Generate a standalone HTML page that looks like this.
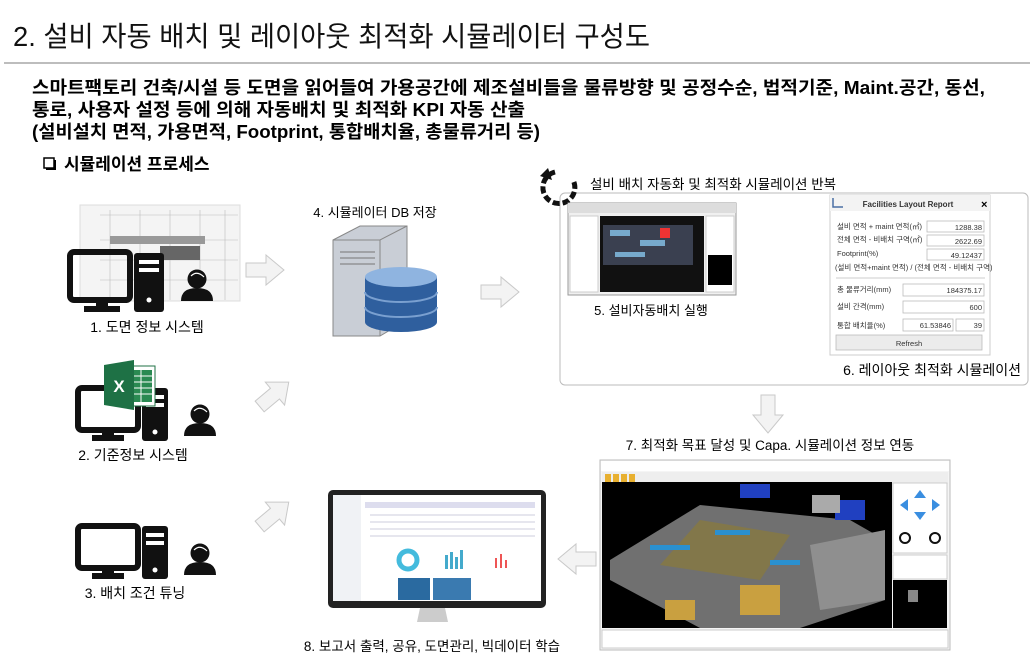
<!DOCTYPE html>
<html><head><meta charset="utf-8">
<style>
html,body{margin:0;padding:0;background:#fff;}
svg{display:block;font-family:"Liberation Sans","Noto Sans CJK KR",sans-serif;}
</style></head><body>
<svg width="1035" height="670" viewBox="0 0 1035 670" xmlns="http://www.w3.org/2000/svg">
<defs>
<g id="rarrow"><path d="M0,8 H20 V0 L38,15 L20,30 V22 H0 Z" fill="#f3f3f3" stroke="#c9c9c9" stroke-width="1"/></g>
<g id="person"><circle cx="0" cy="0" r="9.5" fill="#111"/><path d="M-6,-3 Q0,-9 7,-2" stroke="#fff" stroke-width="1.2" fill="none"/><path d="M-16,22 Q-16,9 0,9 Q16,9 16,22 Z" fill="#111"/></g>
</defs>
<!-- title -->
<text x="13" y="46" font-size="28" fill="#111" textLength="637" lengthAdjust="spacingAndGlyphs">2. 설비 자동 배치 및 레이아웃 최적화 시뮬레이터 구성도</text>
<rect x="4" y="62" width="1026" height="2" fill="#bdbdbd"/>
<g font-size="18" font-weight="bold" fill="#000">
<text x="32" y="94" textLength="953" lengthAdjust="spacingAndGlyphs">스마트팩토리 건축/시설 등 도면을 읽어들여 가용공간에 제조설비들을 물류방향 및 공정수순, 법적기준, Maint.공간, 동선,</text>
<text x="32" y="116" textLength="493" lengthAdjust="spacingAndGlyphs">통로, 사용자 설정 등에 의해 자동배치 및 최적화 KPI 자동 산출</text>
<text x="32" y="138" textLength="508" lengthAdjust="spacingAndGlyphs">(설비설치 면적, 가용면적, Footprint, 통합배치율, 총물류거리 등)</text>
</g>
<rect x="44" y="158" width="10" height="10" fill="#fff" stroke="#000" stroke-width="1.5"/>
<rect x="46" y="168" width="10" height="2" fill="#000"/><rect x="54" y="160" width="2" height="10" fill="#000"/>
<text x="64" y="170" font-size="17" font-weight="bold">시뮬레이션 프로세스</text>

<!-- node1 floor plan -->
<rect x="80" y="205" width="160" height="96" fill="#f4f4f4" stroke="#ddd"/>
<g stroke="#bbb" stroke-width="0.6">
<line x1="100" y1="215" x2="238" y2="215"/><line x1="100" y1="240" x2="238" y2="240"/><line x1="100" y1="260" x2="238" y2="260"/><line x1="100" y1="280" x2="238" y2="280"/>
<line x1="110" y1="210" x2="110" y2="300"/><line x1="140" y1="210" x2="140" y2="300"/><line x1="170" y1="210" x2="170" y2="300"/><line x1="200" y1="210" x2="200" y2="300"/><line x1="225" y1="210" x2="225" y2="300"/>
</g>
<rect x="110" y="236" width="95" height="8" fill="#999"/><rect x="160" y="246" width="40" height="14" fill="#666"/>
<rect x="70" y="252" width="60" height="48" rx="4" fill="none" stroke="#111" stroke-width="6"/>
<rect x="96" y="300" width="12" height="8" fill="#111"/><rect x="84" y="306" width="36" height="6" fill="#111"/>
<rect x="134" y="253" width="30" height="59" rx="3" fill="#111"/>
<rect x="139" y="260" width="20" height="4" fill="#fff"/><rect x="139" y="268" width="20" height="4" fill="#fff"/><circle cx="149" cy="300" r="2.5" fill="#fff"/>
<use href="#person" x="197" y="279"/>
<text x="147" y="332" font-size="14" text-anchor="middle">1. 도면 정보 시스템</text>

<!-- node2 -->
<rect x="78" y="388" width="60" height="42" rx="4" fill="none" stroke="#111" stroke-width="6"/>
<rect x="102" y="430" width="12" height="7" fill="#111"/><rect x="92" y="435" width="32" height="6" fill="#111"/>
<rect x="142" y="388" width="26" height="53" rx="3" fill="#111"/>
<rect x="146" y="395" width="18" height="4" fill="#fff"/><rect x="146" y="403" width="18" height="4" fill="#fff"/><circle cx="155" cy="432" r="2.5" fill="#fff"/>
<rect x="118" y="366" width="37" height="40" fill="#fff" stroke="#1f7244"/>
<g fill="#2a8a52"><rect x="130" y="370" width="22" height="32"/></g>
<g stroke="#fff" stroke-width="1"><line x1="130" y1="376" x2="152" y2="376"/><line x1="130" y1="382" x2="152" y2="382"/><line x1="130" y1="388" x2="152" y2="388"/><line x1="130" y1="394" x2="152" y2="394"/><line x1="141" y1="370" x2="141" y2="402"/></g>
<path d="M104,365 L134,360 L134,410 L104,405 Z" fill="#1e7145"/>
<text x="119" y="392" font-size="17" font-weight="bold" fill="#fff" text-anchor="middle">X</text>
<use href="#person" x="200" y="414"/>
<text x="133" y="460" font-size="14" text-anchor="middle">2. 기준정보 시스템</text>

<!-- node3 -->
<rect x="78" y="526" width="60" height="42" rx="4" fill="none" stroke="#111" stroke-width="6"/>
<rect x="102" y="568" width="12" height="7" fill="#111"/><rect x="92" y="573" width="32" height="6" fill="#111"/>
<rect x="142" y="526" width="26" height="53" rx="3" fill="#111"/>
<rect x="146" y="533" width="18" height="4" fill="#fff"/><rect x="146" y="541" width="18" height="4" fill="#fff"/><circle cx="155" cy="570" r="2.5" fill="#fff"/>
<use href="#person" x="200" y="553"/>
<text x="135" y="598" font-size="14" text-anchor="middle">3. 배치 조건 튜닝</text>

<!-- arrows -->
<use href="#rarrow" x="246" y="255"/>
<use href="#rarrow" transform="translate(250,395) rotate(-40)"/>
<use href="#rarrow" transform="translate(250,515) rotate(-40)"/>
<use href="#rarrow" x="481" y="277"/>
<use href="#rarrow" x="790" y="232"/>
<use href="#rarrow" transform="translate(783,395) rotate(90)"/>
<use href="#rarrow" transform="translate(596,574) rotate(180)"/>

<!-- server -->
<text x="375" y="217" font-size="13" text-anchor="middle">4. 시뮬레이터 DB 저장</text>
<path d="M333,240 L360,226 L407,226 L407,320 L380,336 L333,336 Z" fill="#c9ced6" stroke="#888"/>
<path d="M333,240 L380,240 L380,336" fill="none" stroke="#888"/>
<path d="M380,240 L407,226" stroke="#888"/>
<g stroke="#777" stroke-width="1"><line x1="340" y1="252" x2="375" y2="252"/><line x1="340" y1="258" x2="375" y2="258"/><line x1="340" y1="264" x2="375" y2="264"/></g>
<g>
<path d="M365,277 V322 A36,10 0 0 0 437,322 V277 Z" fill="#2f5f9e"/>
<ellipse cx="401" cy="277" rx="36" ry="10" fill="#8fb4e0"/>
<path d="M365,292 A36,10 0 0 0 437,292 M365,307 A36,10 0 0 0 437,307" fill="none" stroke="#7aa0d0" stroke-width="2"/>
</g>

<!-- frame -->
<rect x="560" y="193" width="468" height="192" rx="5" fill="#fff" stroke="#bbb"/>
<path d="M555,172 A16,16 0 1 0 573,180" fill="none" stroke="#111" stroke-width="5" stroke-dasharray="7,3"/>
<path d="M540,176 L548,168 L552,180 Z" fill="#111"/>
<text x="590" y="189" font-size="13.5">설비 배치 자동화 및 최적화 시뮬레이션 반복</text>

<!-- screenshot 5 -->
<rect x="568" y="203" width="168" height="92" fill="#f0f0f0" stroke="#999"/>
<rect x="568" y="203" width="168" height="10" fill="#ddd"/>
<rect x="570" y="216" width="28" height="76" fill="#fff" stroke="#ccc"/>
<rect x="600" y="216" width="104" height="76" fill="#111"/>
<rect x="603" y="225" width="90" height="40" fill="#3a4050"/>
<g fill="#7ac"><rect x="610" y="230" width="20" height="6"/><rect x="640" y="240" width="25" height="6"/><rect x="615" y="252" width="30" height="5"/></g>
<rect x="660" y="228" width="10" height="10" fill="#e33"/>
<rect x="706" y="216" width="28" height="76" fill="#fff" stroke="#ccc"/>
<rect x="708" y="255" width="24" height="30" fill="#000"/>
<text x="651" y="315" font-size="13" text-anchor="middle">5. 설비자동배치 실행</text>

<!-- report -->
<rect x="830" y="195" width="160" height="160" fill="#fff" stroke="#ccc"/>
<rect x="830" y="195" width="160" height="16" fill="#f3f3f3"/>
<text x="908" y="207" font-size="8" font-weight="bold" text-anchor="middle" fill="#333">Facilities Layout Report</text>
<text x="981" y="208" font-size="11" font-weight="bold">×</text>
<path d="M833,198 V207 H843" stroke="#4a6fa5" stroke-width="1.5" fill="none"/>
<g font-size="7.5" fill="#333">
<text x="837" y="229">설비 면적 + maint 면적(㎡)</text>
<text x="837" y="242">전체 면적 - 비배치 구역(㎡)</text>
<text x="837" y="256">Footprint(%)</text>
<text x="835" y="270">(설비 면적+maint 면적) / (전체 면적 - 비배치 구역)</text>
<text x="837" y="292">총 물류거리(mm)</text>
<text x="837" y="309">설비 간격(mm)</text>
<text x="837" y="328">통합 배치율(%)</text>
</g>
<line x1="836" y1="278" x2="985" y2="278" stroke="#ccc"/>
<g fill="#fff" stroke="#bbb" stroke-width="0.8">
<rect x="927" y="221" width="57" height="11"/><rect x="927" y="235" width="57" height="11"/><rect x="927" y="249" width="57" height="11"/>
<rect x="903" y="284" width="81" height="12"/><rect x="903" y="301" width="81" height="12"/>
<rect x="903" y="319" width="50" height="12"/><rect x="956" y="319" width="28" height="12"/>
</g>
<rect x="836" y="335" width="146" height="15" fill="#ececec" stroke="#bbb" stroke-width="0.8"/>
<g font-size="7.5" fill="#333" text-anchor="end">
<text x="982" y="230">1288.38</text><text x="982" y="244">2622.69</text><text x="982" y="258">49.12437</text>
<text x="982" y="293">184375.17</text><text x="982" y="310">600</text>
<text x="951" y="328">61.53846</text><text x="982" y="328">39</text>
</g>
<text x="909" y="346" font-size="7.5" text-anchor="middle" fill="#333">Refresh</text>
<text x="1021" y="375" font-size="14" text-anchor="end">6. 레이아웃 최적화 시뮬레이션</text>

<text x="770" y="450" font-size="13.5" text-anchor="middle">7. 최적화 목표 달성 및 Capa. 시뮬레이션 정보 연동</text>

<!-- 3D screenshot -->
<rect x="600" y="460" width="350" height="190" fill="#f5f5f5" stroke="#bbb"/>
<rect x="601" y="461" width="348" height="10" fill="#fff"/>
<rect x="602" y="472" width="346" height="12" fill="#eee"/>
<g fill="#e8b030"><rect x="605" y="474" width="6" height="8"/><rect x="613" y="474" width="6" height="8"/><rect x="621" y="474" width="6" height="8"/><rect x="629" y="474" width="6" height="8"/></g>
<rect x="602" y="482" width="290" height="146" fill="#000"/>
<path d="M610,560 L700,505 L850,520 L885,540 L885,600 L800,628 L700,628 L610,580 Z" fill="#707070"/>
<path d="M700,520 L790,535 L760,580 L660,565 Z" fill="#8a7a3a" opacity="0.7"/>
<path d="M810,545 L885,530 L885,600 L820,610 Z" fill="#8f8f8f"/>
<g fill="#2a90d0"><rect x="650" y="545" width="40" height="5"/><rect x="715" y="530" width="35" height="5"/><rect x="770" y="560" width="30" height="5"/></g>
<g fill="#c9a040"><rect x="740" y="585" width="40" height="30"/><rect x="665" y="600" width="30" height="20"/></g>
<rect x="740" y="484" width="30" height="14" fill="#2040c0"/><rect x="835" y="500" width="30" height="20" fill="#2040c0"/>
<rect x="812" y="495" width="28" height="18" fill="#aaa"/>
<rect x="893" y="483" width="54" height="70" fill="#fff" stroke="#ccc"/>
<g fill="#3a8ee0"><path d="M920,490 L926,498 H914 Z"/><path d="M920,520 L926,512 H914 Z"/><path d="M900,505 L908,499 V511 Z"/><path d="M940,505 L932,499 V511 Z"/></g>
<circle cx="905" cy="538" r="5" fill="none" stroke="#111" stroke-width="2"/><circle cx="935" cy="538" r="5" fill="none" stroke="#111" stroke-width="2"/>
<rect x="893" y="555" width="54" height="24" fill="#fff" stroke="#ccc"/>
<rect x="893" y="580" width="54" height="48" fill="#000"/>
<rect x="908" y="590" width="10" height="12" fill="#888"/>
<rect x="602" y="630" width="346" height="18" fill="#fff" stroke="#ccc"/>

<!-- monitor 8 -->
<rect x="328" y="490" width="218" height="118" rx="5" fill="#222"/>
<rect x="333" y="495" width="208" height="106" fill="#fff"/>
<rect x="333" y="495" width="28" height="106" fill="#f0f2f5"/>
<g fill="#dde"><rect x="365" y="502" width="170" height="6"/></g>
<g stroke="#ccd" stroke-width="1"><line x1="370" y1="515" x2="535" y2="515"/><line x1="370" y1="522" x2="535" y2="522"/><line x1="370" y1="529" x2="535" y2="529"/><line x1="370" y1="536" x2="535" y2="536"/></g>
<circle cx="408" cy="560" r="9" fill="none" stroke="#4bd" stroke-width="5"/>
<g fill="#4ac"><rect x="445" y="555" width="3" height="14"/><rect x="450" y="552" width="3" height="17"/><rect x="455" y="557" width="3" height="12"/><rect x="460" y="550" width="3" height="19"/></g>
<g fill="#e55"><rect x="495" y="558" width="2" height="10"/><rect x="500" y="554" width="2" height="14"/><rect x="505" y="560" width="2" height="8"/></g>
<rect x="398" y="578" width="32" height="22" fill="#2a6aa0"/><rect x="433" y="578" width="38" height="22" fill="#3a7ab0"/>
<path d="M420,608 L445,608 L448,622 L417,622 Z" fill="#ccc"/>
<text x="432" y="651" font-size="13.5" text-anchor="middle">8. 보고서 출력, 공유, 도면관리, 빅데이터 학습</text>
</svg>
</body></html>
